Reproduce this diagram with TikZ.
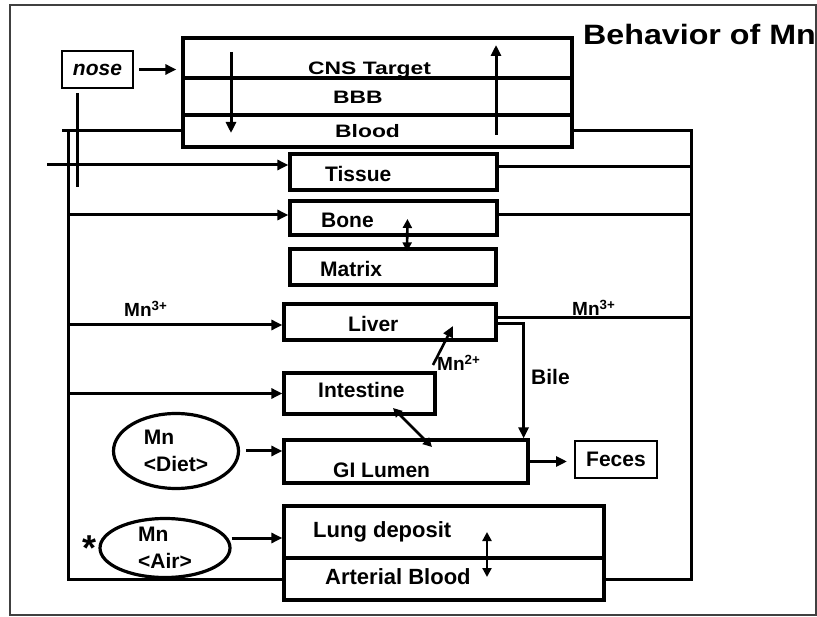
\documentclass[tikz,border=0pt]{standalone}
\usepackage{fontspec}
\setmainfont{Liberation Sans}
\usetikzlibrary{arrows.meta,shapes.geometric}

\newcommand\cnsfont{\bfseries\fontsize{18}{22}\selectfont\addfontfeature{FakeStretch=1.27}}

\begin{document}
\begin{tikzpicture}[x=1pt, y=-1pt,
		box/.style={draw, line width=3.2pt, inner sep=0pt},
		lbl/.style={anchor=base west, inner sep=0pt, font=\bfseries\fontsize{21}{25}\selectfont},
		bus/.style={line width=3pt},
		arr/.style={line width=3pt, -{Triangle[length=11pt,width=10pt]}},
		dbl/.style={line width=2.6pt, {Triangle[length=9pt,width=9pt]}-{Triangle[length=9pt,width=9pt]}},
		oval/.style={draw, ellipse, line width=3.2pt, inner sep=0pt, align=left, font=\bfseries\fontsize{21}{27}\selectfont}]
		\useasboundingbox (0,0) rectangle (817,617);
		\draw[line width=1.4pt, black!75] (10,5) rectangle (816,615);
		
		\node[anchor=base west, inner sep=0pt, font=\bfseries\fontsize{28}{32}\selectfont\addfontfeature{FakeStretch=1.15}] (title) at (583,45) {Behavior of Mn};
		
		% boxes
		\node[box, line width=2pt, minimum width=71pt, minimum height=37pt, font=\bfseries\itshape\fontsize{21}{25}\selectfont] (nose) at (97.5,69.5) {nose};
		\node[box, minimum width=389pt, minimum height=40pt] (cns) at (377.5,58) {};
		\node[box, minimum width=389pt, minimum height=37pt] (bbb) at (377.5,96.5) {};
		\node[box, minimum width=389pt, minimum height=32pt] (blood) at (377.5,131) {};
		\node[box, minimum width=207pt, minimum height=36pt] (tissue) at (393.5,172) {};
		\node[box, minimum width=207pt, minimum height=34pt] (bone) at (393.5,218) {};
		\node[box, minimum width=206pt, minimum height=36pt] (matrix) at (393,267) {};
		\node[box, minimum width=212pt, minimum height=36pt] (liver) at (390,322) {};
		\node[box, minimum width=151pt, minimum height=41pt] (intestine) at (359.5,393.5) {};
		\node[box, minimum width=244pt, minimum height=43pt] (gi) at (406,461.5) {};
		\node[box, line width=2pt, minimum width=82pt, minimum height=37pt, font=\bfseries\fontsize{21}{25}\selectfont] (feces) at (616,459.5) {Feces};
		\node[box, minimum width=320pt, minimum height=52pt] (lung) at (444,532) {};
		\node[box, minimum width=320pt, minimum height=42pt] (arterial) at (444,579) {};
		\node[oval, minimum width=125pt, minimum height=75pt] (diet) at (176,451) {Mn\\<Diet>};
		\node[oval, minimum width=130pt, minimum height=59pt] (air) at (165,548) {Mn\\<Air>};
		\node[anchor=base, inner sep=0pt, font=\bfseries\fontsize{36}{40}\selectfont] (star) at (90,560) {*};
		
		% box texts
		\node[lbl, font=\cnsfont] at (308,75) {CNS Target};
		\node[lbl, font=\cnsfont] at (333,104) {BBB};
		\node[lbl, font=\cnsfont] at (335,138) {Blood};
		\node[lbl] at (325,182) {Tissue};
		\node[lbl] at (321,228) {Bone};
		\node[lbl] at (320,277) {Matrix};
		\node[lbl] at (348,332) {Liver};
		\node[lbl] at (318,398) {Intestine};
		\node[lbl] at (333,478) {GI Lumen};
		\node[lbl, font=\bfseries\fontsize{22}{26}\selectfont] at (313,537) {Lung deposit};
		\node[lbl, font=\bfseries\fontsize{22}{26}\selectfont] at (325,584) {Arterial Blood};
		
		% free ends
		\coordinate (lx) at (68,0);
		\coordinate (rx) at (691,0);
		\coordinate (ltop) at (68,131);
		\coordinate (lstub) at (62,131);
		\coordinate (nosetop) at (77,93);
		\coordinate (nosedrop) at (77,187);
		\coordinate (tstart) at (47,165);
		\coordinate (cdtop) at (231,52);
		\coordinate (cdbot) at (231,133);
		\coordinate (cubot) at (496,135);
		\coordinate (cutop) at (496,45);
		\coordinate (m2a) at (433,365);
		\coordinate (m2b) at (453,326);
		\coordinate (ig1) at (393,408);
		\coordinate (ig2) at (432,447);
		\coordinate (la1) at (487,532);
		\coordinate (la2) at (487,577);
		
		\draw[arr, shorten <=5pt, shorten >=5pt] (nose) -- (nose -| cns.west);
		\draw[bus] (nosetop) -- (nosedrop);
		\draw[arr] (cdtop) -- (cdbot);
		\draw[arr] (cubot) -- (cutop);
		
		% left bus
		\draw[bus] (blood.west) -- (lstub);
		\draw[bus] (ltop) |- (arterial.west);
		\draw[arr] (tstart) -- (tstart -| tissue.west);
		\draw[arr] ([yshift=3pt]bone.west -| lx) -- ([yshift=3pt]bone.west);
		\draw[arr] ([yshift=-3pt]liver.west -| lx) -- ([yshift=-3pt]liver.west);
		\draw[arr] (intestine.west -| lx) -- (intestine.west);
		\node[lbl, font=\bfseries\fontsize{19}{22}\selectfont] at (124,317) {Mn\textsuperscript{3+}};
		
		% right bus
		\draw[bus] (blood.east) -- (blood.east -| rx) -- (arterial.east -| rx) -- (arterial.east);
		\draw[bus] ([yshift=5pt]tissue.east) -- ([yshift=5pt]tissue.east -| rx);
		\draw[bus] ([yshift=3pt]bone.east) -- ([yshift=3pt]bone.east -| rx);
		\draw[bus] ([yshift=4pt]liver.east) -- ([yshift=4pt]liver.east -| rx);
		\node[lbl, font=\bfseries\fontsize{19}{22}\selectfont] at (572,316) {Mn\textsuperscript{3+}};
		
		\draw[dbl] ([xshift=14pt,yshift=-1pt]bone.center) -- ([xshift=14pt,yshift=-4pt]matrix.north);
		\draw[arr] ([yshift=-2pt]liver.east) -| ([xshift=-6pt]gi.north east);
		\node[lbl] at (531,385) {Bile};
		\draw[arr, line width=2.6pt] (m2a) -- (m2b);
		\node[lbl, font=\bfseries\fontsize{19}{22}\selectfont] at (437,371) {Mn\textsuperscript{2+}};
		\draw[dbl] (ig1) -- (ig2);
		
		\draw[arr, shorten <=6pt] (diet) -- (diet -| gi.west);
		\draw[arr, shorten >=7pt] (gi.east) -- (gi.east -| feces.west);
		\draw[arr] ([yshift=10pt]air.east) -- ([yshift=10pt]air.east -| lung.west);
		\draw[dbl] (la1) -- (la2);
	\end{tikzpicture}
\end{document}
